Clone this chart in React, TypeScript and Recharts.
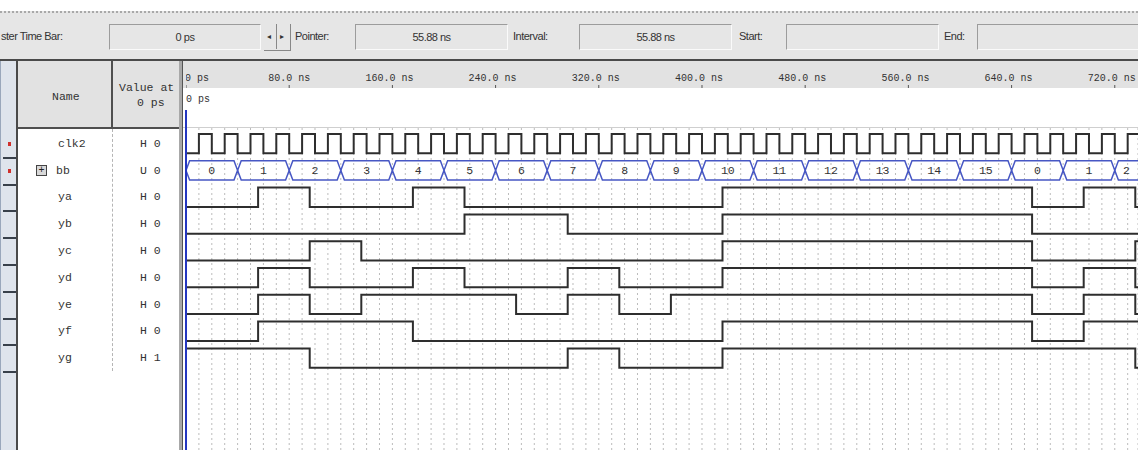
import React from "react";
import { ComposedChart, Line, XAxis, YAxis, CartesianGrid, LabelList } from "recharts";

// visible time window, ns
const T_END = 738;
const timeTicks = [0, 80, 160, 240, 320, 400, 480, 560, 640, 720];
const gridTicks = Array.from({ length: 74 }, (_, i) => i * 10);

const names = ["clk2", "bb", "ya", "yb", "yc", "yd", "ye", "yf", "yg"];
const valuesAt0 = ["H 0", "U 0", "H 0", "H 0", "H 0", "H 0", "H 0", "H 0", "H 1"];

// clk2, one level per 10 ns
const clk2 = [
  0, 1, 0, 1, 0, 1, 0, 1, 0, 1, 0, 1, 0, 1, 0, 1, 0, 1, 0, 1,
  0, 1, 0, 1, 0, 1, 0, 1, 0, 1, 0, 1, 0, 1, 0, 1, 0, 1, 0, 1,
  0, 1, 0, 1, 0, 1, 0, 1, 0, 1, 0, 1, 0, 1, 0, 1, 0, 1, 0, 1,
  0, 1, 0, 1, 0, 1, 0, 1, 0, 1, 0, 1, 0, 1,
];

// bb bus, one value per 40 ns
const bb = [0, 1, 2, 3, 4, 5, 6, 7, 8, 9, 10, 11, 12, 13, 14, 15, 0, 1, 2];

// decoder outputs, one level per bb value (they settle OUT_DELAY after bb changes)
const ya = [0, 1, 0, 0, 1, 0, 0, 0, 0, 0, 1, 1, 1, 1, 1, 1, 0, 1, 0];
const yb = [0, 0, 0, 0, 0, 1, 1, 0, 0, 0, 1, 1, 1, 1, 1, 1, 0, 0, 0];
const yc = [0, 0, 1, 0, 0, 0, 0, 0, 0, 0, 1, 1, 1, 1, 1, 1, 0, 0, 1];
const yd = [0, 1, 0, 0, 1, 0, 0, 1, 0, 0, 1, 1, 1, 1, 1, 1, 0, 1, 0];
const ye = [0, 1, 0, 1, 1, 1, 0, 1, 0, 1, 1, 1, 1, 1, 1, 1, 0, 1, 0];
const yf = [0, 1, 1, 1, 0, 0, 0, 0, 0, 0, 1, 1, 1, 1, 1, 1, 0, 1, 1];
const yg = [1, 1, 0, 0, 0, 0, 0, 1, 0, 0, 1, 1, 1, 1, 1, 1, 1, 1, 0];
const outputs = [ya, yb, yc, yd, ye, yf, yg];

const CLK_STEP = 10;
const BB_STEP = 40;
const OUT_DELAY = 15.9;

// row geometry (y units: one row = 1)
const AMP = 0.72;
const Y_DOMAIN: [number, number] = [-3.071, 10.437];
const ROW_C = 143.7;
const ROW_P = 26.8;
const lvl = (row: number, v: number) => 8 - row + AMP * v;

type Pt = { t: number; y: number; label?: string };

function steps(row: number, init: number, levels: number[], start: number, step: number): Pt[] {
  const pts: Pt[] = [{ t: 0, y: lvl(row, init) }];
  levels.forEach((v, i) => {
    const t = start + i * step;
    if (t > 0 && t < T_END) pts.push({ t, y: lvl(row, v) });
  });
  pts.push({ t: T_END, y: pts[pts.length - 1].y });
  return pts;
}

const clkData = steps(0, clk2[0], clk2, 0, CLK_STEP);
const outData = outputs.map((o, k) =>
  steps(k + 2, Number(valuesAt0[k + 2].slice(-1)), o, OUT_DELAY, BB_STEP)
);

// bus outline
const EDGE = 2.8;
const busHi = lvl(1, 1);
const busLo = lvl(1, 0);
const busMid = (busHi + busLo) / 2;
const busTop: Pt[] = [{ t: 0, y: busMid }, { t: EDGE, y: busHi }];
const busBot: Pt[] = [{ t: 0, y: busMid }, { t: EDGE, y: busLo }];
bb.forEach((_, i) => {
  const t = i * BB_STEP;
  if (i === 0 || t >= T_END) return;
  busTop.push({ t: t - EDGE, y: busHi }, { t, y: busMid }, { t: t + EDGE, y: busHi });
  busBot.push({ t: t - EDGE, y: busLo }, { t, y: busMid }, { t: t + EDGE, y: busLo });
});
busTop.push({ t: T_END, y: busHi });
busBot.push({ t: T_END, y: busLo });
const busLabels: Pt[] = bb.map((v, i) => ({
  t: (i * BB_STEP + Math.min((i + 1) * BB_STEP, T_END)) / 2,
  y: busMid,
  label: String(v),
}));

const MONO = "'Liberation Mono', 'DejaVu Sans Mono', monospace";
const SANS = "'Liberation Sans', Arial, sans-serif";

const fmtTime = (v: number) => (v === 0 ? "0 ps" : `${v.toFixed(1)} ns`);

function TimeTick(props: any) {
  const { x, y, payload } = props;
  const s = fmtTime(payload.value);
  const dot = s.indexOf(".");
  const x0 = dot < 0 ? x - 1 : x - (dot + 1.5) * 6;
  return (
    <text x={x0} y={y - 2} fontFamily={MONO} fontSize={10} fill="#333" textAnchor="start">
      {s}
    </text>
  );
}

function BusLabel(props: any) {
  const { x, y, value } = props;
  return (
    <text x={x} y={y + 4} fontFamily={MONO} fontSize={11.5} fill="#333" textAnchor="middle">
      {value}
    </text>
  );
}

function Abs({ l, t, w, h, style, children }: any) {
  return (
    <div style={{ position: "absolute", left: l, top: t, width: w, height: h, ...style }}>{children}</div>
  );
}

function Field({ l, w, children }: any) {
  return (
    <Abs
      l={l}
      t={11}
      w={w}
      h={26}
      style={{
        borderTop: "1px solid #9c9c9c",
        borderLeft: "1px solid #9c9c9c",
        borderBottom: "1px solid #fafafa",
        borderRight: "1px solid #fafafa",
        boxSizing: "border-box",
        textAlign: "center",
        lineHeight: "24px",
      }}
    >
      {children}
    </Abs>
  );
}

function Toolbar() {
  const txt = { fontFamily: SANS, fontSize: 11, letterSpacing: -0.5, color: "#333" };
  const lab = { whiteSpace: "nowrap" as const, lineHeight: "14px" };
  return (
    <Abs l={0} t={11} w={1138} h={50} style={{ background: "#e6e6e6", borderTop: "2px dotted #a9a9a9", boxSizing: "border-box", ...txt }}>
      <Abs l={1} t={16} style={lab}>ster Time Bar:</Abs>
      <Field l={109} w={152}>0 ps</Field>
      <Abs l={264} t={11} w={27} h={27} style={{ borderRight: "1px solid #888", borderBottom: "1px solid #888", boxSizing: "border-box" }}>
        <div style={{ position: "absolute", left: 12, top: 0, width: 1, height: 25, background: "#888" }} />
        <div style={{ position: "absolute", left: 3, top: 8, fontSize: 8 }}>◂</div>
        <div style={{ position: "absolute", left: 16, top: 8, fontSize: 8 }}>▸</div>
      </Abs>
      <Abs l={295} t={16} style={lab}>Pointer:</Abs>
      <Field l={355} w={153}>55.88 ns</Field>
      <Abs l={513} t={16} style={lab}>Interval:</Abs>
      <Field l={579} w={153}>55.88 ns</Field>
      <Abs l={739} t={16} style={lab}>Start:</Abs>
      <Field l={786} w={153}></Field>
      <Abs l={944} t={16} style={lab}>End:</Abs>
      <Field l={977} w={165}></Field>
    </Abs>
  );
}

function NamePanel() {
  const mono = { fontFamily: MONO, fontSize: 11.5, color: "#333", whiteSpace: "nowrap" as const, lineHeight: "14px" };
  return (
    <>
      <Abs l={0} t={61} w={17} h={389} style={{ background: "#dfe4ec", borderLeft: "1px solid #9aa7bb", boxSizing: "border-box" }} />
      {names.map((_, k) => (
        <Abs key={"m" + k} l={3} t={ROW_C + 13 + k * ROW_P} w={14} h={2} style={{ background: "#39404a" }} />
      ))}
      <Abs l={8} t={ROW_C - 2} w={3} h={4} style={{ background: "#d0302c" }} />
      <Abs l={8} t={ROW_C + ROW_P - 2} w={3} h={4} style={{ background: "#d0302c" }} />
      <Abs l={16} t={61} w={2} h={389} style={{ background: "#4a4a4a" }} />
      <Abs l={18} t={61} w={163} h={68} style={{ background: "#e2e2e2" }} />
      <Abs l={18} t={129} w={163} h={321} style={{ background: "#ffffff" }} />
      <Abs l={18} t={127} w={163} h={2} style={{ background: "#4f4f4f" }} />
      <Abs l={111} t={61} w={2} h={67} style={{ background: "#4f4f4f" }} />
      <Abs l={112} t={129} w={0} h={242} style={{ borderLeft: "1px dashed #b5b5b5" }} />
      <Abs l={52} t={90} style={mono}>Name</Abs>
      <Abs l={119} t={81} style={mono}>Value at</Abs>
      <Abs l={137} t={96} style={mono}>0 ps</Abs>
      {names.map((n, k) => (
        <React.Fragment key={n}>
          <Abs l={k === 1 ? 56 : 58} t={ROW_C + k * ROW_P - 7} style={mono}>{n}</Abs>
          <Abs l={140} t={ROW_C + k * ROW_P - 7} style={mono}>{valuesAt0[k]}</Abs>
        </React.Fragment>
      ))}
      <Abs
        l={36}
        t={ROW_C + ROW_P - 6}
        w={11}
        h={11}
        style={{ border: "1px solid #444", background: "#d8d8d8", boxSizing: "border-box", fontFamily: MONO, fontSize: 10, lineHeight: "9px", textAlign: "center", color: "#222" }}
      >
        +
      </Abs>
      <Abs l={179} t={61} w={4} h={389} style={{ background: "#a8a8a8", borderRight: "1px solid #555", boxSizing: "border-box" }} />
    </>
  );
}

export default function App() {
  return (
    <div style={{ position: "fixed", left: 0, top: 0, width: 1138, height: 450, overflow: "hidden", background: "#ffffff" }}>
      <Toolbar />
      <Abs l={0} t={59} w={1138} h={2} style={{ background: "#4a4a4a" }} />
      <NamePanel />
      <Abs l={183} t={61} w={955} h={27} style={{ background: "#e2e2e2" }} />
      <Abs l={186} t={60} w={952} h={390}>
        <ComposedChart width={952} height={390} margin={{ top: 0, right: 0, bottom: 0, left: 0 }}>
          <XAxis
            xAxisId="time"
            type="number"
            dataKey="t"
            domain={[0, T_END]}
            ticks={timeTicks}
            interval={0}
            orientation="top"
            height={28}
            axisLine={false}
            tickSize={3}
            tickLine={{ stroke: "#555" }}
            tick={<TimeTick />}
            allowDataOverflow
          />
          <XAxis xAxisId="grid" type="number" dataKey="t" domain={[0, T_END]} ticks={gridTicks} interval={0} hide allowDataOverflow />
          <YAxis type="number" domain={Y_DOMAIN} hide allowDataOverflow />
          <CartesianGrid xAxisId="grid" horizontal={false} stroke="#bcbcbc" strokeDasharray="2 3" />
          <Line xAxisId="time" data={clkData} dataKey="y" type="stepAfter" stroke="#2e2e2e" strokeWidth={2} dot={false} isAnimationActive={false} />
          <Line xAxisId="time" data={busTop} dataKey="y" type="linear" stroke="#4757c4" strokeWidth={1.5} dot={false} isAnimationActive={false} />
          <Line xAxisId="time" data={busBot} dataKey="y" type="linear" stroke="#4757c4" strokeWidth={1.5} dot={false} isAnimationActive={false} />
          <Line xAxisId="time" data={busLabels} dataKey="y" type="linear" stroke="none" dot={false} isAnimationActive={false}>
            <LabelList dataKey="label" content={<BusLabel />} />
          </Line>
          {outData.map((d, k) => (
            <Line
              key={names[k + 2]}
              xAxisId="time"
              data={d}
              dataKey="y"
              type="stepAfter"
              stroke="#2e2e2e"
              strokeWidth={2}
              dot={false}
              isAnimationActive={false}
            />
          ))}
        </ComposedChart>
      </Abs>
      <Abs l={183} t={88} w={955} h={40} style={{ background: "#ffffff", borderBottom: "1px solid #cfcfcf", boxSizing: "border-box" }}>
        <div style={{ position: "absolute", left: 3, top: 6, fontFamily: MONO, fontSize: 10, color: "#333" }}>0 ps</div>
      </Abs>
      <Abs l={185} t={110} w={2} h={340} style={{ background: "#2436c0" }} />
    </div>
  );
}
